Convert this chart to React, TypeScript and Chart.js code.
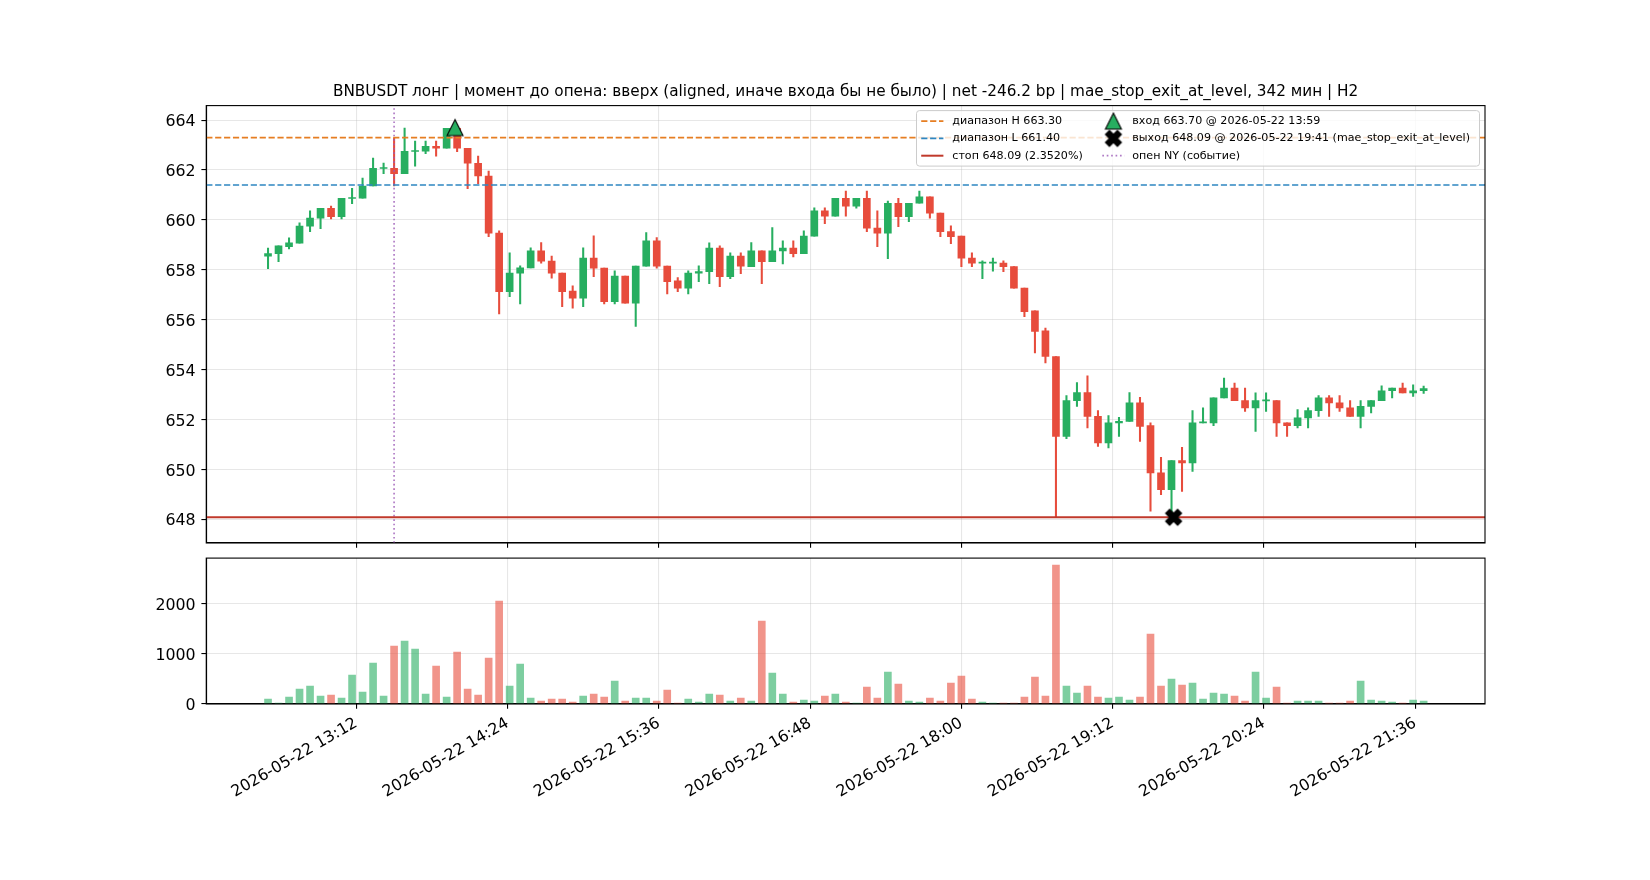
import React, { useEffect, useRef } from "react";
import { Chart, registerables } from "chart.js";

Chart.register(...registerables);

// ---------------- data ----------------
const DATE = "2026-05-22";
const TITLE =
  "BNBUSDT лонг | момент до опена: вверх (aligned, иначе входа бы не было) | net -246.2 bp | mae_stop_exit_at_level, 342 мин | H2";

const TIMES = [
  "12:30", "12:35", "12:40", "12:45", "12:50", "12:55", "13:00", "13:05", "13:10", "13:15",
  "13:20", "13:25", "13:30", "13:35", "13:40", "13:45", "13:50", "13:55", "14:00", "14:05",
  "14:10", "14:15", "14:20", "14:25", "14:30", "14:35", "14:40", "14:45", "14:50", "14:55",
  "15:00", "15:05", "15:10", "15:15", "15:20", "15:25", "15:30", "15:35", "15:40", "15:45",
  "15:50", "15:55", "16:00", "16:05", "16:10", "16:15", "16:20", "16:25", "16:30", "16:35",
  "16:40", "16:45", "16:50", "16:55", "17:00", "17:05", "17:10", "17:15", "17:20", "17:25",
  "17:30", "17:35", "17:40", "17:45", "17:50", "17:55", "18:00", "18:05", "18:10", "18:15",
  "18:20", "18:25", "18:30", "18:35", "18:40", "18:45", "18:50", "18:55", "19:00", "19:05",
  "19:10", "19:15", "19:20", "19:25", "19:30", "19:35", "19:40", "19:45", "19:50", "19:55",
  "20:00", "20:05", "20:10", "20:15", "20:20", "20:25", "20:30", "20:35", "20:40", "20:45",
  "20:50", "20:55", "21:00", "21:05", "21:10", "21:15", "21:20", "21:25", "21:30", "21:35",
  "21:40",
];

const OPEN = [
  658.55, 658.65, 658.93, 659.07, 659.75, 660.07, 660.47, 660.13, 660.86, 660.87,
  661.36, 662.06, 662.07, 661.85, 662.74, 662.75, 662.95, 662.87, 663.67, 662.87,
  662.27, 661.76, 659.47, 657.13, 657.87, 658.08, 658.76, 658.35, 657.87, 657.15,
  656.87, 658.47, 658.07, 656.73, 657.75, 656.67, 658.15, 659.16, 658.15, 657.56,
  657.27, 657.87, 657.93, 658.87, 657.73, 658.55, 658.13, 658.76, 658.33, 658.76,
  658.87, 658.65, 659.35, 660.36, 660.15, 660.87, 660.55, 660.87, 659.67, 659.47,
  660.67, 660.13, 660.67, 660.93, 660.27, 659.53, 659.35, 658.47, 658.27, 658.27,
  658.27, 658.13, 657.27, 656.36, 655.56, 654.53, 651.33, 652.76, 653.09, 652.13,
  651.07, 651.87, 651.93, 652.67, 651.76, 649.87, 649.2, 650.36, 650.27, 651.87,
  651.87, 652.87, 653.27, 652.76, 652.47, 652.75, 652.76, 651.87, 651.76, 652.07,
  652.36, 652.87, 652.67, 652.47, 652.13, 652.53, 652.76, 653.16, 653.27, 653.07,
  653.16,
];
const HIGH = [
  658.87, 658.96, 659.28, 659.88, 660.36, 660.47, 660.56, 660.87, 661.27, 661.68,
  662.48, 662.28, 663.27, 663.68, 663.16, 663.16, 663.16, 663.67, 663.7, 662.87,
  662.56, 661.96, 659.56, 658.68, 658.16, 658.88, 659.09, 658.55, 657.87, 657.36,
  658.88, 659.36, 658.07, 657.96, 657.75, 658.15, 659.49, 659.29, 658.15, 657.69,
  657.96, 658.16, 659.08, 658.96, 658.68, 658.68, 659.09, 658.76, 659.69, 659.16,
  659.16, 659.56, 660.49, 660.49, 660.87, 661.16, 660.87, 661.16, 660.36, 660.76,
  660.87, 660.67, 661.16, 660.93, 660.27, 659.76, 659.35, 658.68, 658.36, 658.47,
  658.36, 658.13, 657.27, 656.36, 655.67, 654.53, 652.96, 653.49, 653.76, 652.36,
  652.16, 652.09, 653.09, 652.89, 651.87, 650.49, 650.36, 650.89, 652.36, 652.47,
  652.87, 653.67, 653.47, 653.27, 653.07, 653.07, 652.76, 651.87, 652.4, 652.47,
  652.96, 652.96, 652.96, 652.76, 652.76, 652.76, 653.36, 653.27, 653.47, 653.4,
  653.35,
];
const LOW = [
  658.05, 658.33, 658.84, 659.07, 659.53, 659.65, 660.04, 660.04, 660.65, 660.87,
  661.36, 661.85, 661.36, 661.85, 662.15, 662.65, 662.55, 662.87, 662.73, 661.25,
  661.45, 659.33, 656.24, 656.93, 656.64, 658.08, 658.27, 657.67, 656.53, 656.47,
  656.53, 657.73, 656.64, 656.64, 656.67, 655.73, 658.15, 658.07, 657.04, 657.13,
  657.04, 657.53, 657.45, 657.33, 657.65, 657.85, 658.13, 657.45, 658.33, 658.24,
  658.52, 658.65, 659.35, 659.85, 660.15, 660.15, 660.47, 659.53, 658.93, 658.45,
  659.73, 659.93, 660.67, 660.07, 659.33, 659.05, 658.13, 658.13, 657.65, 657.95,
  657.93, 657.27, 656.13, 654.67, 654.27, 648.09, 651.24, 652.53, 651.67, 650.93,
  650.87, 651.33, 651.93, 651.13, 648.33, 649.0, 648.09, 649.13, 649.93, 651.87,
  651.76, 652.87, 652.76, 652.33, 651.53, 652.33, 651.33, 651.33, 651.67, 651.67,
  652.13, 652.13, 652.33, 652.13, 651.67, 652.27, 652.76, 652.87, 653.07, 652.93,
  653.05,
];
const CLOSE = [
  658.65, 658.96, 659.08, 659.75, 660.07, 660.47, 660.13, 660.87, 660.9, 661.36,
  662.07, 662.1, 661.85, 662.75, 662.78, 662.95, 662.87, 663.67, 662.87, 662.27,
  661.76, 659.47, 657.13, 657.87, 658.08, 658.76, 658.35, 657.87, 657.13, 656.87,
  658.47, 658.07, 656.73, 657.75, 656.67, 658.15, 659.16, 658.15, 657.53, 657.27,
  657.87, 657.93, 658.87, 657.73, 658.55, 658.15, 658.76, 658.33, 658.76, 658.87,
  658.65, 659.35, 660.36, 660.15, 660.87, 660.55, 660.87, 659.67, 659.47, 660.67,
  660.13, 660.67, 660.93, 660.27, 659.53, 659.33, 658.47, 658.27, 658.31, 658.31,
  658.13, 657.27, 656.33, 655.53, 654.53, 651.33, 652.76, 653.09, 652.13, 651.07,
  651.87, 651.93, 652.67, 651.73, 649.87, 649.2, 650.36, 650.27, 651.87, 651.91,
  652.87, 653.27, 652.76, 652.47, 652.76, 652.79, 651.87, 651.76, 652.07, 652.36,
  652.87, 652.67, 652.47, 652.13, 652.53, 652.76, 653.16, 653.27, 653.07, 653.16,
  653.25,
];
const VOLUME = [
  100, 20, 140, 300, 360, 160, 180, 120, 580, 240,
  820, 160, 1160, 1260, 1100, 200, 760, 140, 1040, 300,
  180, 920, 2060, 360, 800, 120, 60, 100, 100, 40,
  160, 200, 140, 460, 60, 120, 120, 60, 280, 20,
  100, 40, 200, 180, 60, 120, 60, 1660, 620, 200,
  40, 80, 60, 160, 200, 40, 20, 340, 120, 640,
  400, 60, 40, 120, 60, 420, 560, 100, 40, 20,
  20, 20, 140, 540, 160, 2780, 360, 220, 360, 140,
  120, 140, 80, 140, 1400, 360, 500, 380, 420, 100,
  220, 200, 160, 60, 640, 120, 340, 20, 60, 60,
  60, 20, 20, 60, 460, 80, 60, 40, 20, 80,
  60,
];

const X_TICKS = ["13:12", "14:24", "15:36", "16:48", "18:00", "19:12", "20:24", "21:36"];
const PRICE_TICKS = [648, 650, 652, 654, 656, 658, 660, 662, 664];
const VOLUME_TICKS = [0, 1000, 2000];

const RANGE_HIGH = 663.3;
const RANGE_LOW = 661.4;
const STOP = 648.09;
const STOP_PCT = "2.3520%";
const ENTRY_TIME = "13:59";
const ENTRY_PRICE = 663.7;
const EXIT_TIME = "19:41";
const EXIT_PRICE = 648.09;
const EXIT_REASON = "mae_stop_exit_at_level";
const NY_OPEN_TIME = "13:30";

// axis limits (minutes since midnight / price / volume)
const X_MIN = 720.6;
const X_MAX = 1329.2;
const PRICE_MIN = 647.06;
const PRICE_MAX = 664.58;
const VOLUME_MAX = 2918;

// ---------------- styles ----------------
const FONT = "'DejaVu Sans', 'Noto Sans', sans-serif";
const TICK_FONT = 15.8;
const GREEN = "#27ae60";
const RED = "#e74c3c";
const GREEN_A = "rgba(39,174,96,0.6)";
const RED_A = "rgba(231,76,60,0.6)";
const ORANGE = "#e67e22";
const BLUE = "#2e86c1";
const STOP_RED = "#c0392b";
const PURPLE = "rgba(155,89,182,0.8)";
const GRID = "rgba(176,176,176,0.3)";

const toMin = (s: string) => {
  const [h, m] = s.split(":").map(Number);
  return h * 60 + m;
};
const fmtMin = (v: number) => {
  const h = Math.floor(v / 60);
  const m = Math.round(v - h * 60);
  return `${String(h).padStart(2, "0")}:${String(m).padStart(2, "0")}`;
};

function makeTriangle(): HTMLCanvasElement {
  const c = document.createElement("canvas");
  c.width = 20;
  c.height = 20;
  const g = c.getContext("2d")!;
  g.beginPath();
  g.moveTo(10, 2);
  g.lineTo(2, 18);
  g.lineTo(18, 18);
  g.closePath();
  g.fillStyle = GREEN;
  g.fill();
  g.lineWidth = 1.1;
  g.strokeStyle = "#000";
  g.stroke();
  return c;
}

function makeX(): HTMLCanvasElement {
  const c = document.createElement("canvas");
  c.width = 20;
  c.height = 20;
  const g = c.getContext("2d")!;
  const pts = [
    [-1, -2], [0, -1], [1, -2], [2, -1], [1, 0], [2, 1],
    [1, 2], [0, 1], [-1, 2], [-2, 1], [-1, 0], [-2, -1],
  ];
  g.beginPath();
  pts.forEach(([px, py], i) => {
    const x = 10 + px * 4;
    const y = 10 + py * 4;
    if (i === 0) g.moveTo(x, y);
    else g.lineTo(x, y);
  });
  g.closePath();
  g.fillStyle = "#000";
  g.fill();
  g.lineWidth = 1.1;
  g.strokeStyle = "#000";
  g.stroke();
  return c;
}

const framePlugin = {
  id: "frame",
  afterDatasetsDraw(chart: any) {
    const { ctx, chartArea } = chart;
    ctx.save();
    ctx.strokeStyle = "#000";
    ctx.lineWidth = 1.1;
    ctx.strokeRect(chartArea.left, chartArea.top, chartArea.right - chartArea.left, chartArea.bottom - chartArea.top);
    ctx.restore();
  },
};

function legendPlugin(tri: HTMLCanvasElement, xm: HTMLCanvasElement) {
  return {
    id: "mplLegend",
    afterDraw(chart: any) {
      const ctx = chart.ctx as CanvasRenderingContext2D;
      const right = chart.chartArea.right - 5.5;
      const top = chart.chartArea.top + 5;
      const w = 563;
      const h = 55.5;
      const left = right - w;
      ctx.save();
      ctx.beginPath();
      const r = 3;
      ctx.moveTo(left + r, top);
      ctx.lineTo(right - r, top);
      ctx.quadraticCurveTo(right, top, right, top + r);
      ctx.lineTo(right, top + h - r);
      ctx.quadraticCurveTo(right, top + h, right - r, top + h);
      ctx.lineTo(left + r, top + h);
      ctx.quadraticCurveTo(left, top + h, left, top + h - r);
      ctx.lineTo(left, top + r);
      ctx.quadraticCurveTo(left, top, left + r, top);
      ctx.closePath();
      ctx.fillStyle = "rgba(255,255,255,0.8)";
      ctx.fill();
      ctx.strokeStyle = "#cccccc";
      ctx.lineWidth = 1;
      ctx.stroke();

      const rows = [top + 10.5, top + 27.8, top + 45.1];
      const h1 = left + 4.7;
      const h2 = h1 + 22.2;
      const t1 = left + 35.8;
      const mc = left + 196.9;
      const t2 = left + 215.8;
      const line = (y: number, color: string, dash: number[], lw: number) => {
        ctx.beginPath();
        ctx.setLineDash(dash);
        ctx.strokeStyle = color;
        ctx.lineWidth = lw;
        ctx.moveTo(h1, y);
        ctx.lineTo(h2, y);
        ctx.stroke();
        ctx.setLineDash([]);
      };
      line(rows[0], ORANGE, [6.2, 2.7], 1.67);
      line(rows[1], BLUE, [6.2, 2.7], 1.67);
      line(rows[2], STOP_RED, [], 2);
      ctx.drawImage(tri, mc - 10, rows[0] - 10);
      ctx.drawImage(xm, mc - 10, rows[1] - 10);
      ctx.beginPath();
      ctx.setLineDash([1.67, 2.75]);
      ctx.strokeStyle = PURPLE;
      ctx.lineWidth = 1.67;
      ctx.moveTo(mc - 11.1, rows[2]);
      ctx.lineTo(mc + 11.1, rows[2]);
      ctx.stroke();
      ctx.setLineDash([]);

      ctx.fillStyle = "#000";
      ctx.font = `11.1px ${FONT}`;
      ctx.textBaseline = "middle";
      ctx.textAlign = "left";
      ctx.fillText(`диапазон H ${RANGE_HIGH.toFixed(2)}`, t1, rows[0]);
      ctx.fillText(`диапазон L ${RANGE_LOW.toFixed(2)}`, t1, rows[1]);
      ctx.fillText(`стоп ${STOP.toFixed(2)} (${STOP_PCT})`, t1, rows[2]);
      ctx.fillText(`вход ${ENTRY_PRICE.toFixed(2)} @ ${DATE} ${ENTRY_TIME}`, t2, rows[0]);
      ctx.fillText(`выход ${EXIT_PRICE.toFixed(2)} @ ${DATE} ${EXIT_TIME} (${EXIT_REASON})`, t2, rows[1]);
      ctx.fillText("опен NY (событие)", t2, rows[2]);
      ctx.restore();
    },
  };
}

const LEFT_W = 206.25;
const RIGHT_PAD = 165;
const TICK_LEN = 4.86;

function gridOpts() {
  return {
    color: GRID,
    lineWidth: 1.1,
    drawTicks: true,
    tickLength: TICK_LEN,
    tickColor: "#000",
    tickWidth: 1.1,
    offset: false,
  };
}

function yTicks() {
  return {
    font: { size: TICK_FONT, family: FONT },
    color: "#000",
    padding: 5.8,
    labelOffset: 1.8,
    callback: (v: any) => String(v),
  };
}

export default function App() {
  const priceRef = useRef<HTMLCanvasElement>(null);
  const volRef = useRef<HTMLCanvasElement>(null);

  useEffect(() => {
    Chart.defaults.font.family = FONT;
    Chart.defaults.color = "#000";
    const tri = makeTriangle();
    const xm = makeX();
    const xs = TIMES.map(toMin);
    const up = OPEN.map((o, i) => CLOSE[i] >= o);
    const candleColors = up.map((u) => (u ? GREEN : RED));
    const volColors = up.map((u) => (u ? GREEN_A : RED_A));
    const nyX = toMin(NY_OPEN_TIME);

    const priceChart = new Chart(priceRef.current!, {
      type: "bar",
      data: {
        datasets: [
          {
            type: "scatter",
            label: "entry",
            data: [{ x: toMin(ENTRY_TIME), y: ENTRY_PRICE }],
            pointStyle: tri,
            pointRadius: 8,
            order: 0,
          } as any,
          {
            type: "scatter",
            label: "exit",
            data: [{ x: toMin(EXIT_TIME), y: EXIT_PRICE }],
            pointStyle: xm,
            pointRadius: 8,
            order: 0,
          } as any,
          {
            type: "line",
            label: "range H",
            data: [{ x: X_MIN, y: RANGE_HIGH }, { x: X_MAX, y: RANGE_HIGH }],
            borderColor: ORANGE,
            borderDash: [6.2, 2.7],
            borderWidth: 1.67,
            pointRadius: 0,
            order: 1,
          } as any,
          {
            type: "line",
            label: "range L",
            data: [{ x: X_MIN, y: RANGE_LOW }, { x: X_MAX, y: RANGE_LOW }],
            borderColor: BLUE,
            borderDash: [6.2, 2.7],
            borderWidth: 1.67,
            pointRadius: 0,
            order: 1,
          } as any,
          {
            type: "line",
            label: "stop",
            data: [{ x: X_MIN, y: STOP }, { x: X_MAX, y: STOP }],
            borderColor: STOP_RED,
            borderWidth: 2,
            pointRadius: 0,
            order: 1,
          } as any,
          {
            type: "line",
            label: "ny open",
            data: [{ x: nyX, y: PRICE_MIN }, { x: nyX, y: PRICE_MAX }],
            borderColor: PURPLE,
            borderDash: [1.67, 2.75],
            borderWidth: 1.67,
            pointRadius: 0,
            order: 1,
          } as any,
          {
            type: "bar",
            label: "body",
            data: xs.map((x, i) => ({ x, y: [OPEN[i], CLOSE[i]] })),
            backgroundColor: candleColors,
            borderWidth: 0,
            barThickness: 7,
            grouped: false,
            order: 2,
          } as any,
          {
            type: "bar",
            label: "wick",
            data: xs.map((x, i) => ({ x, y: [LOW[i], HIGH[i]] })),
            backgroundColor: candleColors,
            borderWidth: 0,
            barThickness: 1.4,
            grouped: false,
            order: 3,
          } as any,
        ],
      },
      options: {
        animation: false,
        responsive: false,
        events: [],
        layout: { padding: { left: 0, right: RIGHT_PAD, top: 0, bottom: 0 } },
        plugins: {
          legend: { display: false },
          tooltip: { enabled: false },
          title: {
            display: true,
            text: TITLE,
            fullSize: false,
            color: "#000",
            font: { size: 15.28, weight: "normal", family: FONT, lineHeight: 1.2 },
            padding: { top: 82.43, bottom: 4.83 },
          },
        },
        scales: {
          x: {
            type: "linear",
            min: X_MIN,
            max: X_MAX,
            offset: false,
            grid: gridOpts(),
            border: { color: "#000", width: 1.1 },
            ticks: { callback: () => "", autoSkip: false, maxRotation: 0 },
            afterBuildTicks: (s: any) => {
              s.ticks = X_TICKS.map((t) => ({ value: toMin(t) }));
            },
            afterFit: (s: any) => {
              s.height = 8.5;
              s.paddingLeft = 0;
              s.paddingRight = 0;
            },
          },
          y: {
            type: "linear",
            min: PRICE_MIN,
            max: PRICE_MAX,
            grid: gridOpts(),
            border: { color: "#000", width: 1.1 },
            ticks: yTicks(),
            afterBuildTicks: (s: any) => {
              s.ticks = PRICE_TICKS.map((v) => ({ value: v }));
            },
            afterFit: (s: any) => {
              s.width = LEFT_W;
              s.paddingTop = 0;
              s.paddingBottom = 0;
            },
          },
        },
      } as any,
      plugins: [framePlugin, legendPlugin(tri, xm)],
    });

    const volChart = new Chart(volRef.current!, {
      type: "bar",
      data: {
        datasets: [
          {
            label: "volume",
            data: xs.map((x, i) => ({ x, y: VOLUME[i] })),
            backgroundColor: volColors,
            borderWidth: 0,
            barThickness: 7,
            grouped: false,
          } as any,
        ],
      },
      options: {
        animation: false,
        responsive: false,
        events: [],
        layout: { padding: { left: 0, right: RIGHT_PAD, top: 6.1, bottom: 0 } },
        plugins: { legend: { display: false }, tooltip: { enabled: false }, title: { display: false } },
        scales: {
          x: {
            type: "linear",
            min: X_MIN,
            max: X_MAX,
            offset: false,
            grid: gridOpts(),
            border: { color: "#000", width: 1.1 },
            ticks: {
              autoSkip: false,
              minRotation: 30,
              maxRotation: 30,
              padding: 5.2,
              labelOffset: 0,
              font: { size: TICK_FONT, family: FONT },
              color: "#000",
              callback: (v: any) => `${DATE} ${fmtMin(Number(v))}`,
            },
            afterBuildTicks: (s: any) => {
              s.ticks = X_TICKS.map((t) => ({ value: toMin(t) }));
            },
            afterFit: (s: any) => {
              s.height = 176;
              s.paddingLeft = 0;
              s.paddingRight = 0;
            },
          },
          y: {
            type: "linear",
            min: 0,
            max: VOLUME_MAX,
            grid: gridOpts(),
            border: { color: "#000", width: 1.1 },
            ticks: yTicks(),
            afterBuildTicks: (s: any) => {
              s.ticks = VOLUME_TICKS.map((v) => ({ value: v }));
            },
            afterFit: (s: any) => {
              s.width = LEFT_W;
              s.paddingTop = 0;
              s.paddingBottom = 0;
            },
          },
        },
      } as any,
      plugins: [framePlugin],
    });

    return () => {
      priceChart.destroy();
      volChart.destroy();
    };
  }, []);

  return (
    <div style={{ position: "absolute", left: 0, top: 0, width: 1650, height: 880, background: "#fff" }}>
      <canvas ref={priceRef} width={1650} height={552} style={{ position: "absolute", left: 0, top: 0 }} />
      <canvas ref={volRef} width={1650} height={328} style={{ position: "absolute", left: 0, top: 552 }} />
    </div>
  );
}
